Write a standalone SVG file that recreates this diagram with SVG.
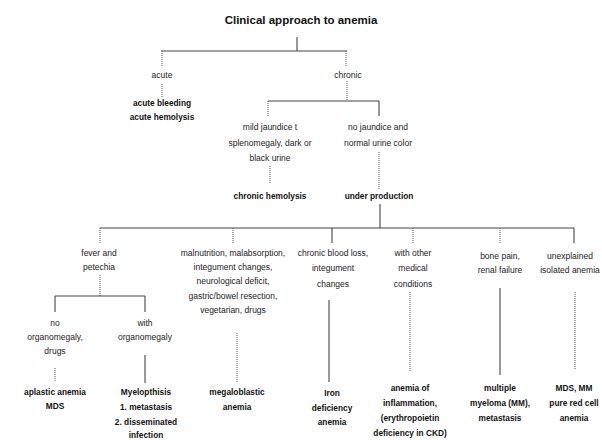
<svg xmlns="http://www.w3.org/2000/svg" width="602" height="440" viewBox="0 0 602 440">
<style>
text{font-family:"Liberation Sans",Arial,sans-serif;font-size:8.5px;fill:#222;text-anchor:middle}
.t{font-size:11.5px;font-weight:bold;fill:#111}
.b{font-weight:bold;fill:#111;font-size:8.3px}
.s{stroke:#333;stroke-width:1;fill:none}
.d{stroke:#555;stroke-width:1;fill:none;stroke-dasharray:1 1}
.h{stroke:#444;stroke-width:1.2;fill:none}
</style>
<rect width="602" height="440" fill="#fff"/>
<g id="connectors">
<path class="s" d="M297 37V51"/>
<path class="h" d="M161 51H347"/>
<path class="d" d="M162 51V66"/>
<path class="d" d="M346 51V66"/>
<path class="d" d="M162 84V97"/>
<path class="d" d="M347 81V101"/>
<path class="h" d="M268 101H379"/>
<path class="d" d="M268 101V116"/>
<path class="s" d="M379 101V116"/>
<path class="d" d="M270 166V184"/>
<path class="d" d="M379 152V189"/>
<path class="s" d="M380 204V228"/>
<path class="h" d="M100 228H574"/>
<path class="d" d="M100 228V243"/>
<path class="d" d="M233 228V243"/>
<path class="s" d="M332 228V243"/>
<path class="d" d="M413 228V243"/>
<path class="d" d="M500 228V243"/>
<path class="s" d="M574 228V243"/>
<path class="d" d="M100 275V296"/>
<path class="h" d="M55 296H145"/>
<path class="s" d="M55 296V312"/>
<path class="s" d="M145 296V312"/>
<path class="d" d="M55 368V382"/>
<path class="s" d="M145 355V383"/>
<path class="d" d="M237 333V382"/>
<path class="s" d="M329 300V382"/>
<path class="d" d="M410 292V372"/>
<path class="s" d="M500 288V375"/>
<path class="d" d="M575 292V370"/>
</g>
<g id="title"><text class="t" x="301" y="24">Clinical approach to anemia</text></g>
<g id="acute"><text x="162" y="78">acute</text></g>
<g id="chronic"><text x="348" y="78">chronic</text></g>
<g id="acute-result"><text class="b" x="162" y="106">acute bleeding</text><text class="b" x="162" y="120">acute hemolysis</text></g>
<g id="mild-jaundice"><text x="270" y="130">mild jaundice t</text><text x="270" y="146">splenomegaly, dark or</text><text x="270" y="161">black urine</text></g>
<g id="no-jaundice"><text x="378" y="130">no jaundice and</text><text x="378" y="146">normal urine color</text></g>
<g id="chronic-hemolysis"><text class="b" x="270" y="199">chronic hemolysis</text></g>
<g id="under-production"><text class="b" x="379" y="199">under production</text></g>
<g id="fever"><text x="99" y="256">fever and</text><text x="99" y="270">petechia</text></g>
<g id="malnutrition"><text x="233" y="256">malnutrition, malabsorption,</text><text x="233" y="270">integument changes,</text><text x="233" y="284">neurological deficit,</text><text x="233" y="299">gastric/bowel resection,</text><text x="233" y="313">vegetarian, drugs</text></g>
<g id="blood-loss"><text x="333" y="256">chronic blood loss,</text><text x="333" y="271">integument</text><text x="333" y="287">changes</text></g>
<g id="other-conditions"><text x="413" y="256">with other</text><text x="413" y="271">medical</text><text x="413" y="287">conditions</text></g>
<g id="bone-pain"><text x="500" y="259">bone pain,</text><text x="500" y="273">renal failure</text></g>
<g id="unexplained"><text x="570" y="259">unexplained</text><text x="570" y="273">isolated anemia</text></g>
<g id="no-organomegaly"><text x="55" y="326">no</text><text x="55" y="340">organomegaly,</text><text x="55" y="354">drugs</text></g>
<g id="with-organomegaly"><text x="145" y="326">with</text><text x="145" y="340">organomegaly</text></g>
<g id="aplastic"><text class="b" x="55" y="395">aplastic anemia</text><text class="b" x="55" y="409">MDS</text></g>
<g id="myelopthisis"><text class="b" x="146" y="395">Myelopthisis</text><text class="b" x="146" y="410">1. metastasis</text><text class="b" x="146" y="425">2. disseminated</text><text class="b" x="146" y="438">infection</text></g>
<g id="megaloblastic"><text class="b" x="237" y="395">megaloblastic</text><text class="b" x="237" y="410">anemia</text></g>
<g id="iron"><text class="b" x="332" y="396">Iron</text><text class="b" x="332" y="411">deficiency</text><text class="b" x="332" y="425">anemia</text></g>
<g id="inflammation"><text class="b" x="410" y="391">anemia of</text><text class="b" x="410" y="406">inflammation,</text><text class="b" x="410" y="421">(erythropoietin</text><text class="b" x="410" y="436">deficiency in CKD)</text></g>
<g id="myeloma"><text class="b" x="500" y="391">multiple</text><text class="b" x="500" y="406">myeloma (MM),</text><text class="b" x="500" y="421">metastasis</text></g>
<g id="mds-mm"><text class="b" x="574" y="391">MDS, MM</text><text class="b" x="574" y="406">pure red cell</text><text class="b" x="574" y="421">anemia</text></g>
</svg>
